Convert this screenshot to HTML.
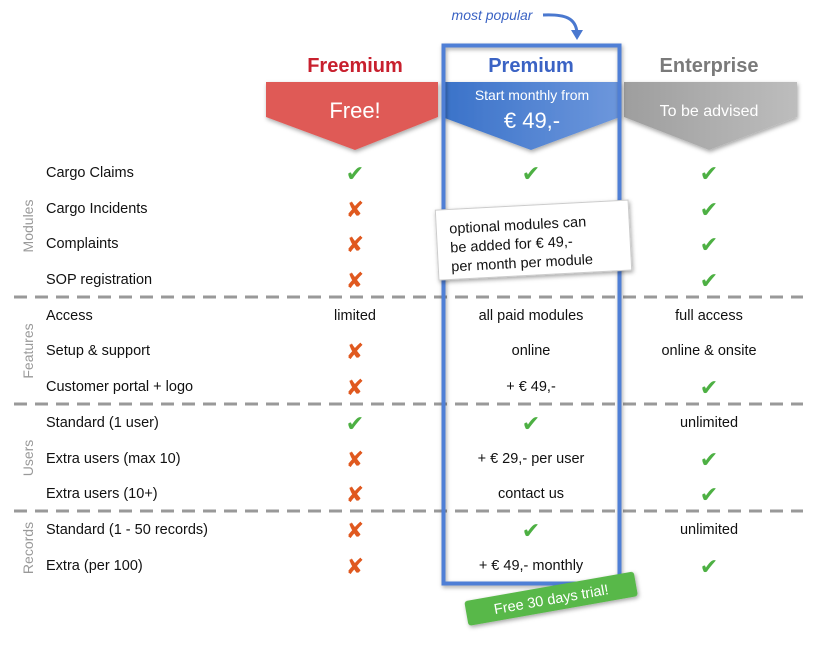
<!DOCTYPE html>
<html><head><meta charset="utf-8"><style>
html,body{margin:0;padding:0;background:#fff;width:813px;height:648px;overflow:hidden}
svg{display:block}
text{font-family:"Liberation Sans",sans-serif}
.l{font-size:14.5px;fill:#111}
.c{font-size:14.5px;fill:#111;text-anchor:middle}
.ok{font-size:22px;font-weight:bold;fill:#4db043;text-anchor:middle;font-family:"DejaVu Sans",sans-serif}
.no{font-size:22px;font-weight:bold;fill:#e0591f;text-anchor:middle;font-family:"DejaVu Sans",sans-serif}
.side{font-size:14px;fill:#999;text-anchor:middle}
</style></head><body>
<svg width="813" height="648" viewBox="0 0 813 648" xmlns="http://www.w3.org/2000/svg">
<defs>
<linearGradient id="bg" x1="0" x2="1"><stop offset="0" stop-color="#3a72c9"/><stop offset="1" stop-color="#6d97dc"/></linearGradient>
<linearGradient id="gg" x1="0" x2="1"><stop offset="0" stop-color="#9e9e9e"/><stop offset="1" stop-color="#bdbdbd"/></linearGradient>
<filter id="sh" x="-10%" y="-10%" width="130%" height="140%"><feDropShadow dx="1" dy="2" stdDeviation="2" flood-opacity="0.35"/></filter>
</defs>
<text x="355" y="72" text-anchor="middle" font-size="20" font-weight="bold" fill="#c8202e">Freemium</text>
<text x="531" y="72" text-anchor="middle" font-size="20" font-weight="bold" fill="#3b63c4">Premium</text>
<text x="709" y="72" text-anchor="middle" font-size="20" font-weight="bold" fill="#7a7a7a">Enterprise</text>
<polygon points="266,82 438,82 438,117 355,150 266,117" fill="#df5a56" filter="url(#sh)"/>
<polygon points="442,82 620,82 620,117 531,150 442,117" fill="url(#bg)" filter="url(#sh)"/>
<polygon points="624,82 797,82 797,117 709,150 624,117" fill="url(#gg)" filter="url(#sh)"/>
<text x="355" y="118" text-anchor="middle" font-size="22" fill="#fff">Free!</text>
<text x="532" y="100" text-anchor="middle" font-size="14" fill="#fff">Start monthly from</text>
<text x="532" y="128" text-anchor="middle" font-size="22" fill="#fff">€ 49,-</text>
<text x="709" y="116" text-anchor="middle" font-size="16" fill="#fff">To be advised</text>
<text x="492" y="20" text-anchor="middle" font-size="14" font-style="italic" fill="#3b63c4">most popular</text>
<path d="M543,15 C565,14 576,18 577,33" stroke="#4a78cf" stroke-width="3" fill="none"/>
<polygon points="571,30 583,30 577,40" fill="#4a78cf"/>
<g stroke="#999" stroke-width="3" stroke-dasharray="13,8">
<line x1="14" y1="297" x2="803" y2="297"/>
<line x1="14" y1="404" x2="803" y2="404"/>
<line x1="14" y1="511" x2="803" y2="511"/>
</g>
<rect x="443.5" y="45.5" width="176" height="538" fill="none" stroke="#4f7fd6" stroke-width="4" filter="url(#sh)"/>
<text class="side" transform="translate(33,226) rotate(-90)">Modules</text>
<text class="side" transform="translate(33,351) rotate(-90)">Features</text>
<text class="side" transform="translate(33,458) rotate(-90)">Users</text>
<text class="side" transform="translate(33,548) rotate(-90)">Records</text>
<text class="l" x="46" y="177">Cargo Claims</text>
<text class="l" x="46" y="213">Cargo Incidents</text>
<text class="l" x="46" y="248">Complaints</text>
<text class="l" x="46" y="284">SOP registration</text>
<text class="l" x="46" y="320">Access</text>
<text class="l" x="46" y="355">Setup &amp; support</text>
<text class="l" x="46" y="391">Customer portal + logo</text>
<text class="l" x="46" y="427">Standard (1 user)</text>
<text class="l" x="46" y="463">Extra users (max 10)</text>
<text class="l" x="46" y="498">Extra users (10+)</text>
<text class="l" x="46" y="534">Standard (1 - 50 records)</text>
<text class="l" x="46" y="570">Extra (per 100)</text>
<text class="ok" x="355" y="181">✔</text>
<text class="no" x="355" y="217">✘</text>
<text class="no" x="355" y="252">✘</text>
<text class="no" x="355" y="288">✘</text>
<text class="c" x="355" y="320">limited</text>
<text class="no" x="355" y="359">✘</text>
<text class="no" x="355" y="395">✘</text>
<text class="ok" x="355" y="431">✔</text>
<text class="no" x="355" y="467">✘</text>
<text class="no" x="355" y="502">✘</text>
<text class="no" x="355" y="538">✘</text>
<text class="no" x="355" y="574">✘</text>
<text class="ok" x="531" y="181">✔</text>
<text class="c" x="531" y="320">all paid modules</text>
<text class="c" x="531" y="355">online</text>
<text class="c" x="531" y="391">+ € 49,-</text>
<text class="ok" x="531" y="431">✔</text>
<text class="c" x="531" y="463">+ € 29,- per user</text>
<text class="c" x="531" y="498">contact us</text>
<text class="ok" x="531" y="538">✔</text>
<text class="c" x="531" y="570">+ € 49,- monthly</text>
<text class="ok" x="709" y="181">✔</text>
<text class="ok" x="709" y="217">✔</text>
<text class="ok" x="709" y="252">✔</text>
<text class="ok" x="709" y="288">✔</text>
<text class="c" x="709" y="320">full access</text>
<text class="c" x="709" y="355">online &amp; onsite</text>
<text class="ok" x="709" y="395">✔</text>
<text class="c" x="709" y="427">unlimited</text>
<text class="ok" x="709" y="467">✔</text>
<text class="ok" x="709" y="502">✔</text>
<text class="c" x="709" y="534">unlimited</text>
<text class="ok" x="709" y="574">✔</text>
<g transform="rotate(-3 535 240)">
<rect x="437" y="205" width="193" height="70" fill="#fff" stroke="#ccc" stroke-width="1" filter="url(#sh)"/>
<text x="450" y="229" font-size="14.5" fill="#111">optional modules can</text>
<text x="450" y="248" font-size="14.5" fill="#111">be added for € 49,-</text>
<text x="450" y="267" font-size="14.5" fill="#111">per month per module</text>
</g>
<g transform="rotate(-10 552 598)">
<rect x="465" y="586" width="172" height="25" rx="3" fill="#58b84a" filter="url(#sh)"/>
<text x="551" y="604" text-anchor="middle" font-size="14.5" fill="#fff">Free 30 days trial!</text>
</g>
</svg>
</body></html>
